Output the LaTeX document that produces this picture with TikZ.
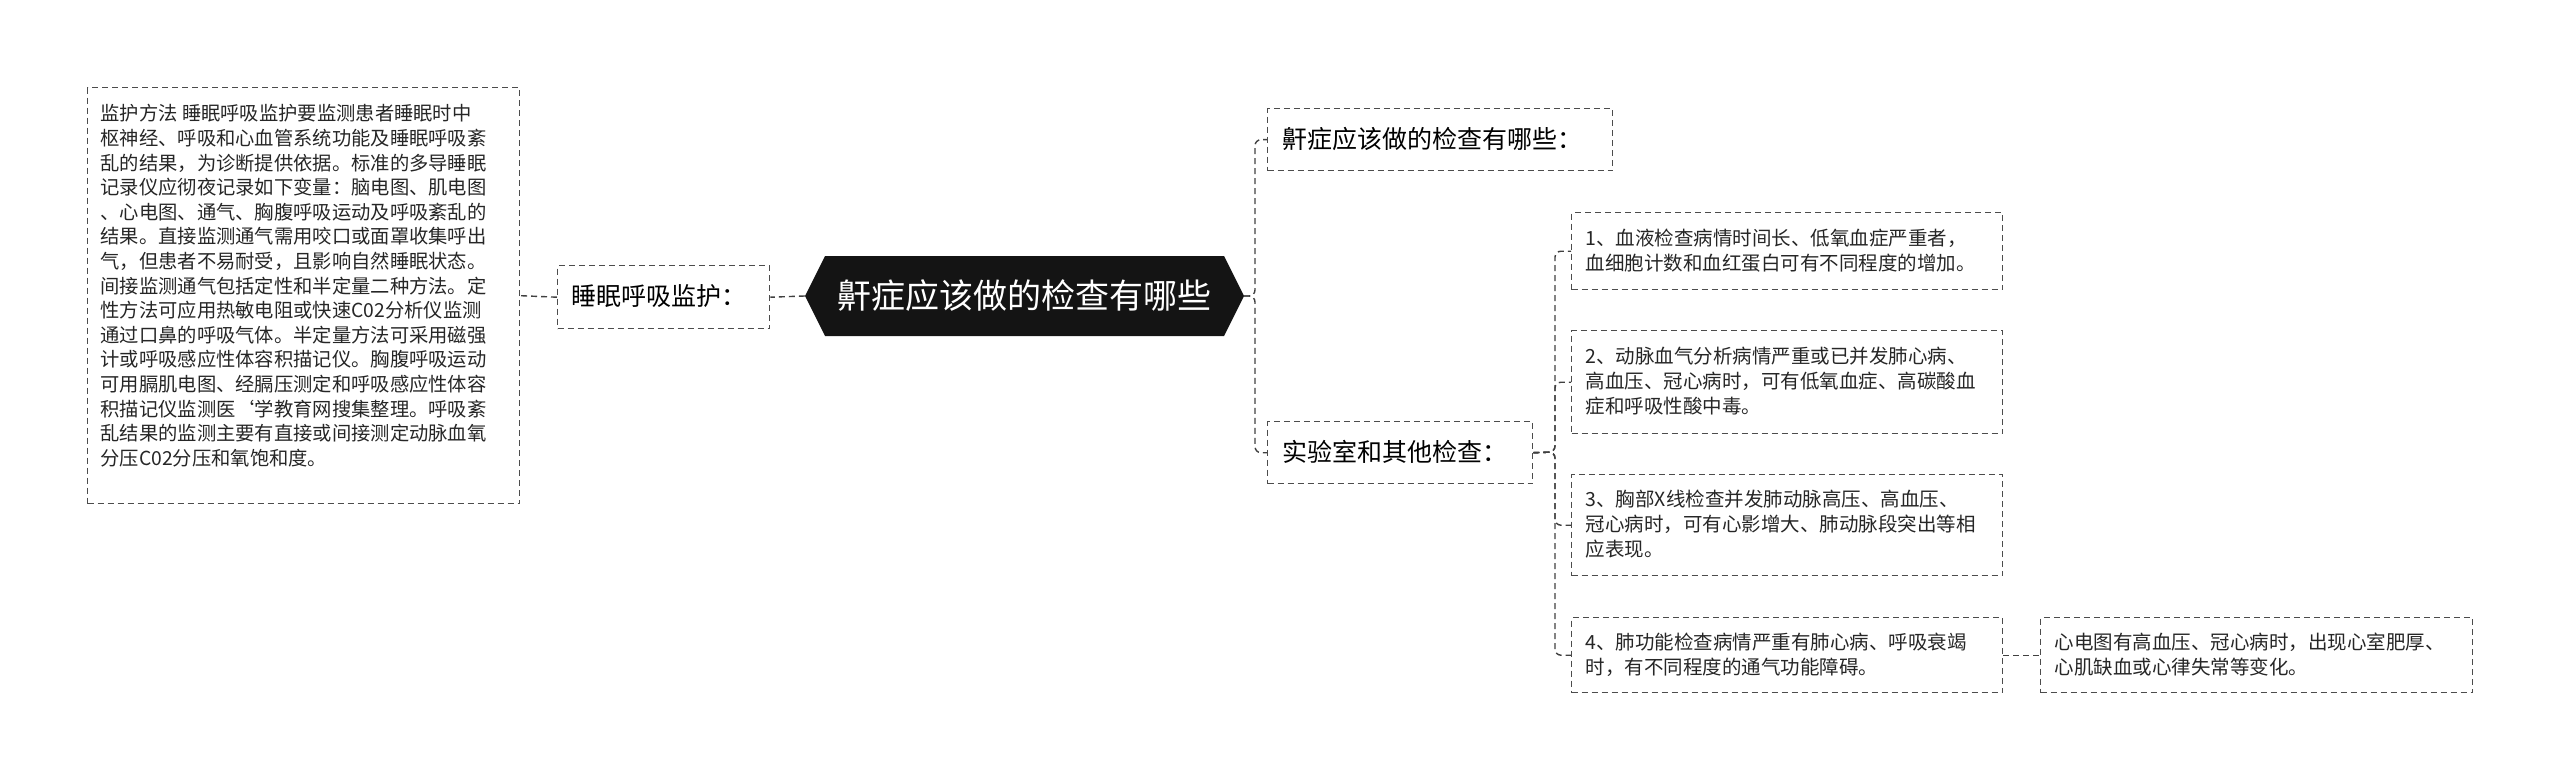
\documentclass[tikz,border=0pt]{standalone}
\usepackage{fontspec}
\setmainfont{Noto Sans CJK SC}
\begin{document}
\begin{tikzpicture}[x=1pt,y=-1pt,
  box/.style={draw=black!70,line width=1.4pt,dash pattern=on 6pt off 4pt,inner sep=0pt,anchor=north west},
  lnk/.style={draw=black!75,line width=1.4pt,dash pattern=on 6pt off 4pt,rounded corners=6pt},
  txt/.style={font=\fontsize{19.5pt}{25pt}\selectfont,align=left,anchor=west,text=black!85}]
\useasboundingbox (0,0) rectangle (2560,781);
% central
\fill[black!92] (805,296) -- (825,256) -- (1224,256) -- (1244,296) -- (1224,336) -- (825,336) -- cycle;
\node[font=\fontsize{34pt}{40pt}\selectfont,text=white,minimum width=439pt,minimum height=80pt] (c) at (1024.5,296) {鼾症应该做的检查有哪些};
% left label
\node[box,minimum width=212pt,minimum height=63pt] (l1) at (557,265) {};
\node[font=\fontsize{25pt}{30pt}\selectfont,anchor=west] at (568,296.5) {睡眠呼吸监护：};
% left text box
\node[box,minimum width=432pt,minimum height=416pt] (l2) at (87,87) {};
\node[txt,anchor=north west,font=\fontsize{19.3pt}{24.6pt}\selectfont] at (97,101) {监护方法 睡眠呼吸监护要监测患者睡眠时中\\枢神经、呼吸和心血管系统功能及睡眠呼吸紊\\乱的结果，为诊断提供依据。标准的多导睡眠\\记录仪应彻夜记录如下变量：脑电图、肌电图\\、心电图、通气、胸腹呼吸运动及呼吸紊乱的\\结果。直接监测通气需用咬口或面罩收集呼出\\气，但患者不易耐受，且影响自然睡眠状态。\\间接监测通气包括定性和半定量二种方法。定\\性方法可应用热敏电阻或快速C02分析仪监测\\通过口鼻的呼吸气体。半定量方法可采用磁强\\计或呼吸感应性体容积描记仪。胸腹呼吸运动\\可用膈肌电图、经膈压测定和呼吸感应性体容\\积描记仪监测医`学教育网搜集整理。呼吸紊\\乱结果的监测主要有直接或间接测定动脉血氧\\分压C02分压和氧饱和度。};
% right labels
\node[box,minimum width=345pt,minimum height=62pt] (r1) at (1267,108) {};
\node[font=\fontsize{25pt}{30pt}\selectfont,anchor=west] at (1279,139) {鼾症应该做的检查有哪些：};
\node[box,minimum width=265pt,minimum height=62pt] (r2) at (1267,421) {};
\node[font=\fontsize{25pt}{30pt}\selectfont,anchor=west] at (1279,452) {实验室和其他检查：};
% items
\node[box,minimum width=431pt,minimum height=77pt] (i1) at (1571,212) {};
\node[txt] at (1582,250.5) {1、血液检查病情时间长、低氧血症严重者，\\血细胞计数和血红蛋白可有不同程度的增加。};
\node[box,minimum width=431pt,minimum height=103pt] (i2) at (1571,330) {};
\node[txt] at (1582,381.5) {2、动脉血气分析病情严重或已并发肺心病、\\高血压、冠心病时，可有低氧血症、高碳酸血\\症和呼吸性酸中毒。};
\node[box,minimum width=431pt,minimum height=101pt] (i3) at (1571,474) {};
\node[txt] at (1582,524.5) {3、胸部X线检查并发肺动脉高压、高血压、\\冠心病时，可有心影增大、肺动脉段突出等相\\应表现。};
\node[box,minimum width=431pt,minimum height=75pt] (i4) at (1571,617) {};
\node[txt] at (1582,654.5) {4、肺功能检查病情严重有肺心病、呼吸衰竭\\时，有不同程度的通气功能障碍。};
\node[box,minimum width=432pt,minimum height=75pt] (f) at (2040,617) {};
\node[txt] at (2051,654.5) {心电图有高血压、冠心病时，出现心室肥厚、\\心肌缺血或心律失常等变化。};
% connectors
\draw[lnk] (c.west) -- (l1.east);
\draw[lnk] (l1.west) -- (l2.east);
\draw[lnk] (c.east) -- (1255,296) |- (r1.west);
\draw[lnk] (c.east) -- (1255,296) |- (r2.west);
\draw[lnk] (r2.east) -- (1555,452) |- (i1.west);
\draw[lnk] (r2.east) -- (1555,452) |- (i2.west);
\draw[lnk] (r2.east) -- (1555,452) |- (i3.west);
\draw[lnk] (r2.east) -- (1555,452) |- (i4.west);
\draw[lnk] (i4.east) -- (f.west);
\end{tikzpicture}
\end{document}
